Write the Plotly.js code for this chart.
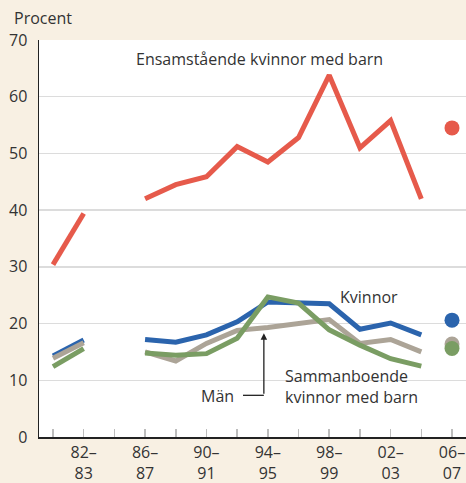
<!DOCTYPE html>
<html>
<head>
<meta charset="utf-8">
<script src="https://cdn.plot.ly/plotly-3.0.1.min.js"></script>
<style>html,body{margin:0;padding:0;background:#f8f0e3;}#chart{width:466px;height:483px;}</style>
</head>
<body>
<div id="chart"></div>
<script>
var periods = ['80–81','82–83','84–85','86–87','88–89','90–91','92–93','94–95','96–97','98–99','00–01','02–03','04–05','06–07'];
var labelTop = ['', '82–', '', '86–', '', '90–', '', '94–', '', '98–', '', '02–', '', '06–'];
var labelBottom = ['', '83', '', '87', '', '91', '', '95', '', '99', '', '03', '', '07'];
var linePeriods = periods.slice(0, 13);
var dotPeriod = ['06–07'];

var ensamstaende = [30.4, 39.4, null, 42.0, 44.5, 45.9, 51.2, 48.5, 52.8, 63.8, 51.0, 55.8, 42.0];
var kvinnor      = [14.3, 17.1, null, 17.2, 16.7, 18.0, 20.3, 23.8, 23.7, 23.5, 19.0, 20.1, 18.0];
var man          = [13.9, 16.6, null, 15.0, 13.4, 16.5, 18.8, 19.3, 20.0, 20.7, 16.5, 17.2, 15.0];
var sammanboende = [12.4, 15.6, null, 14.8, 14.4, 14.7, 17.4, 24.7, 23.6, 18.9, 16.2, 13.8, 12.5];
var dot0607 = {ensamstaende: 54.5, kvinnor: 20.6, man: 16.4, sammanboende: 15.6};

var colors = {ensamstaende:'#e65a4b', kvinnor:'#2b64ad', man:'#aca497', sammanboende:'#7a9d63'};
var FONT = 'Open Sans, Noto Sans, sans-serif';
var TXT = '#333333';

function lineTrace(y, c){
  return {x: linePeriods, y: y, type:'scatter', mode:'lines', connectgaps:false,
          line:{color:c, width:5}, hoverinfo:'skip', showlegend:false};
}
function dotTrace(v, c){
  return {x: dotPeriod, y:[v], xaxis:'x2', yaxis:'y', type:'scatter', mode:'markers',
          marker:{color:c, size:15, line:{width:0}}, hoverinfo:'skip', showlegend:false};
}
var data = [
  lineTrace(ensamstaende, colors.ensamstaende),
  lineTrace(kvinnor, colors.kvinnor),
  lineTrace(man, colors.man),
  lineTrace(sammanboende, colors.sammanboende),
  dotTrace(dot0607.ensamstaende, colors.ensamstaende),
  dotTrace(dot0607.kvinnor, colors.kvinnor),
  dotTrace(dot0607.man, colors.man),
  dotTrace(dot0607.sammanboende, colors.sammanboende)
];

var xr = [-0.456, 13.456];
var layout = {
  width:466, height:483,
  margin:{l:39, r:0, t:40, b:46, pad:0},
  paper_bgcolor:'#f8f0e3', plot_bgcolor:'#ffffff',
  font:{family:FONT, size:16, color:TXT},
  showlegend:false,
  xaxis:{type:'category', categoryorder:'array', categoryarray:periods, range:xr,
         tickmode:'array', tickvals:periods, ticktext:labelTop,
         ticks:'inside', ticklen:8, tickwidth:1.5, tickcolor:'#bdbdbd',
         showline:true, linecolor:'#222', linewidth:2, showgrid:false, zeroline:false,
         ticklabelstandoff:0, tickfont:{size:16, color:TXT}, fixedrange:true},
  xaxis2:{type:'category', categoryorder:'array', categoryarray:periods, range:xr,
         overlaying:'x', anchor:'y', side:'bottom',
         tickmode:'array', tickvals:periods, ticktext:labelBottom,
         ticks:'', showline:false, showgrid:false, zeroline:false,
         ticklabelstandoff:25, tickfont:{size:16, color:TXT}, fixedrange:true},
  yaxis:{range:[0,70], tickmode:'array', tickvals:[0,10,20,30,40,50,60,70],
         ticks:'', showline:true, linecolor:'#222', linewidth:1.5,
         showgrid:true, gridcolor:'#dcdcdc', gridwidth:1.5, zeroline:false,
         ticklabelstandoff:7, tickfont:{size:16, color:TXT}, fixedrange:true},
  shapes:[
    {type:'path', xref:'x', yref:'y', path:'M 6.19,7.35 L 6.87,7.35', line:{color:'#222', width:1.3}}
  ],
  annotations:[
    {xref:'paper', yref:'paper', x:-0.063, y:1.055, xanchor:'left', yanchor:'middle',
     text:'Procent', showarrow:false, font:{size:16, color:TXT}},
    {xref:'x', yref:'y', x:6.74, y:66.6, xanchor:'center', yanchor:'middle',
     text:'Ensamstående kvinnor med barn', showarrow:false, font:{size:16, color:TXT}},
    {xref:'x', yref:'y', x:10.3, y:24.7, xanchor:'center', yanchor:'middle',
     text:'Kvinnor', showarrow:false, font:{size:16, color:TXT}},
    {xref:'x', yref:'y', x:5.95, y:7.2, xanchor:'right', yanchor:'middle',
     text:'Män', showarrow:false, font:{size:16, color:TXT}},
    {xref:'x', yref:'y', x:7.5, y:8.85, xanchor:'left', yanchor:'middle', align:'left',
     text:'Sammanboende<br>kvinnor med barn', showarrow:false, font:{size:16, color:TXT}},
    {xref:'x', yref:'y', axref:'x', ayref:'y', x:6.87, y:18.3, ax:6.87, ay:7.35,
     text:'', showarrow:true, arrowhead:2, arrowsize:1, arrowwidth:1.3, arrowcolor:'#222', standoff:0}
  ]
};

Plotly.newPlot('chart', data, layout, {staticPlot:true, displayModeBar:false});
</script>
</body>
</html>
